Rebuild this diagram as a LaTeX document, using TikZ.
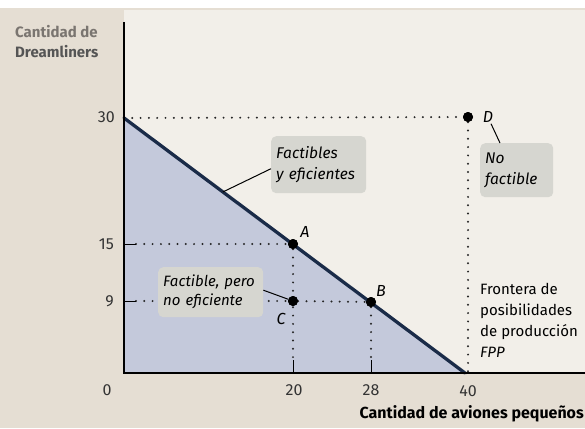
\documentclass[tikz,border=0pt]{standalone}
\usepackage{fontspec}
\setmainfont{Fira Sans}
\usetikzlibrary{calc}
\definecolor{bgbeige}{HTML}{E5DED3}
\definecolor{plotbg}{HTML}{F2EFE9}
\definecolor{regionblue}{HTML}{C4C9DB}
\definecolor{fppblue}{HTML}{1A2B48}
\definecolor{boxgrey}{HTML}{D6D6D0}
\definecolor{numgrey}{HTML}{333333}
\definecolor{lblgrey}{HTML}{7A7570}
\definecolor{lbldark}{HTML}{555555}
\tikzset{
  dotline/.style={line width=2.2pt, line cap=round, dash pattern=on 0pt off 8.3pt, color=black!85},
  ptdot/.style={circle, fill=black, inner sep=0pt, minimum size=10pt},
  numlbl/.style={font=\fontsize{16}{19}\selectfont, text=numgrey, inner sep=0pt},
  ptlbl/.style={font=\fontsize{16}{19}\selectfont\itshape, inner sep=0pt},
  notebox/.style={fill=boxgrey, rounded corners=5pt, anchor=north west, align=left,
    font=\fontsize{15.5}{21}\selectfont\itshape, inner xsep=5pt, inner ysep=0pt},
  tick/.style={line width=1pt, black},
  conn/.style={line width=1pt, black}
}
\begin{document}
\begin{tikzpicture}[x=1pt, y=-1pt]
\useasboundingbox (0,0) rectangle (585,428);
% backgrounds
\fill[bgbeige] (0,0) rectangle (585,428);
\fill[white] (0,0) rectangle (585,8);
\fill[plotbg] (124,10) rectangle (585,373);
% key points
\coordinate (O) at (124,373);
\coordinate (P30) at (124,118);
\coordinate (P40) at (465,373);
\coordinate (Ytop) at (124,22);
\coordinate (Xend) at (585,373);
% feasible region
\fill[regionblue] (O) -- (P30) -- (P40) -- cycle;
% dotted guides
\coordinate (T15) at (136,244);
\coordinate (T9) at (136,301);
\coordinate (T20) at (293,360);
\coordinate (T28) at (371,360);
\coordinate (DX) at (468,373);
\node[ptdot] (A) at (293,244) {};
\node[ptdot] (B) at (371,302) {};
\node[ptdot] (C) at (293,301) {};
\node[ptdot] (D) at (468,117) {};
\draw[dotline] (P30) -- (D);
\draw[dotline] (D) -- (DX);
\draw[dotline] (T15) -- (A);
\draw[dotline] (A) -- (T20);
\draw[dotline] (T9) -- (C);
\draw[dotline] (C) -- (B);
\draw[dotline] (B) -- (T28);
% frontier
\draw[fppblue, line width=3.3pt, line cap=round] (P30) -- (P40);
% axes
\draw[line width=1.1pt] (Ytop) -- (O) -- (Xend);
\draw[tick] (124,244) -- (T15);
\draw[tick] (124,301) -- (T9);
\draw[tick] (293,373) -- (T20);
\draw[tick] (371,373) -- (T28);
% redraw points on top
\node[ptdot] at (A) {};
\node[ptdot] at (B) {};
\node[ptdot] at (C) {};
\node[ptdot] at (D) {};
% point labels
\node[ptlbl] (la) at (305,232) {A};
\node[ptlbl] (lb) at (381,291) {B};
\node[ptlbl] (lc) at (281,319) {C};
\node[ptlbl] (ld) at (488,117) {D};
% note boxes
\node[notebox, text width=85pt, minimum height=57pt] (fe) at (271,136) {\mbox{Factibles}\\\mbox{y eficientes}};
\node[notebox, text width=63pt, minimum height=54pt] (nf) at (480,143) {No\\\mbox{factible}};
\node[notebox, text width=95pt, minimum height=50pt, font=\fontsize{15}{19}\selectfont\itshape] (fp) at (158,267) {\mbox{Factible, pero}\\\mbox{no eficiente}};
\coordinate (onfpp) at ($(P30)!0.29!(P40)$);
\draw[conn] ($(fe.west)+(0,4)$) -- (onfpp);
\draw[conn] ($(ld.south)+(3,1)$) -- ($(nf.north west)+(20,0)$);
\draw[conn] ($(fp.east)+(0,-2)$) -- (C);
% frontier label
\node[anchor=north west, align=left, inner sep=0pt, font=\fontsize{15}{21}\selectfont] (fpp) at (480,283)
  {Frontera de\\posibilidades\\de producción\\\textit{FPP}};
% axis numbers
\node[numlbl, anchor=east] (n30) at (115,117) {30};
\node[numlbl, anchor=east] (n15) at (114,244) {15};
\node[numlbl, anchor=east] (n9) at (114,301) {9};
\node[numlbl] (n0) at (107,390) {0};
\node[numlbl] (n20) at (294,390) {20};
\node[numlbl] (n28) at (371,390) {28};
\node[numlbl] (n40) at (468,391) {40};
% axis titles
\node[anchor=north west, align=left, inner sep=0pt, font=\fontsize{15}{20}\selectfont\bfseries] (ytitle) at (15,25) {\textcolor{lblgrey}{Cantidad de}\\\textcolor{lbldark}{Dreamliners}};
\node[anchor=east, inner sep=0pt, font=\fontsize{16}{19}\selectfont\bfseries] (xtitle) at (584,414) {Cantidad de aviones pequeños};
\end{tikzpicture}
\end{document}
